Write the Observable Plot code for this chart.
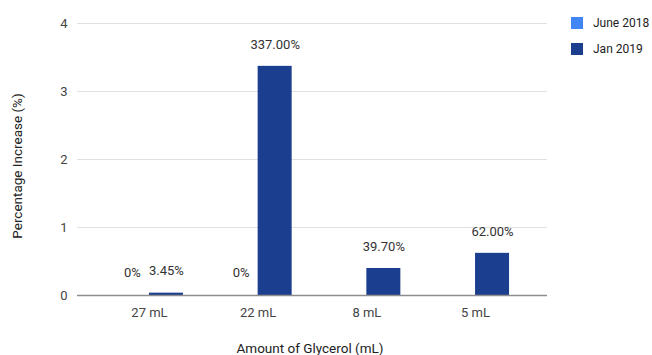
<!DOCTYPE html>
<html>
<head>
<meta charset="utf-8">
<script src="https://cdn.jsdelivr.net/npm/d3@7"></script>
<script src="https://cdn.jsdelivr.net/npm/@observablehq/plot@0.6"></script>
<style>
  html, body { margin: 0; padding: 0; background: #fff; }
  #wrap { position: relative; width: 652px; height: 355px; font-family: Roboto, "Noto Sans", sans-serif; }
  .legend { position: absolute; left: 571px; font-size: 12px; color: #222; display: flex; align-items: center; line-height: 12px; white-space: nowrap; }
  .legend .sw { width: 12px; height: 12px; margin-right: 10px; flex: none; }
  .atitle { position: absolute; font-size: 13.5px; color: #222; white-space: nowrap; line-height: 15px; }
</style>
</head>
<body>
<div id="wrap"></div>
<script>
const categories = ["27 mL", "22 mL", "8 mL", "5 mL"];
const seriesNames = ["June 2018", "Jan 2019"];
const june2018 = [0, 0, null, null];
const jan2019 = [0.0345, 3.37, 0.397, 0.62];
const june2018Labels = ["0%", "0%", null, null];
const jan2019Labels = ["3.45%", "337.00%", "39.70%", "62.00%"];
const yTicks = [0, 1, 2, 3, 4];
const colors = ["#4285f4", "#1c3e8e"];
const xTitle = "Amount of Glycerol (mL)";
const yTitle = "Percentage Increase (%)";

const W = 652, H = 355, mL = 77, mR = 105, mT = 23, mB = 60;
const outerPad = 0.162;
const step = (W - mL - mR) / (categories.length + 2 * outerPad);
const barW = 34;
const half = step / 2;

const juneRows = categories.map((c, i) => ({cat: c, value: june2018[i], label: june2018Labels[i]})).filter(d => d.value != null);
const janRows = categories.map((c, i) => ({cat: c, value: jan2019[i], label: jan2019Labels[i]}));

const chart = Plot.plot({
  width: W,
  height: H,
  marginLeft: mL,
  marginRight: mR,
  marginTop: mT,
  marginBottom: mB,
  style: {fontFamily: "Roboto, 'Noto Sans', sans-serif", fontSize: "13px", color: "#444", background: "#fff"},
  x: {domain: categories, paddingInner: 0, paddingOuter: outerPad, round: false, label: null, tickSize: 0, tickPadding: 12},
  y: {domain: [0, 4], ticks: yTicks, tickSize: 0, tickPadding: 10, label: null, tickFormat: d => d},
  marks: [
    Plot.ruleY(yTicks.filter(d => d > 0), {stroke: "#e0e0e0", strokeWidth: 1}),
    Plot.barY(juneRows, {x: "cat", y: "value", fill: colors[0], insetLeft: half - barW, insetRight: half}),
    Plot.barY(janRows, {x: "cat", y: "value", fill: colors[1], insetLeft: half, insetRight: half - barW}),
    Plot.ruleY([0], {stroke: "#8e8e8e", strokeWidth: 1.5}),
    Plot.text(juneRows, {x: "cat", y: "value", text: "label", dx: -barW / 2, dy: -23, fill: "#333", fontSize: 13, lineAnchor: "middle"}),
    Plot.text(janRows, {x: "cat", y: "value", text: "label", dx: barW / 2, dy: -22, fill: "#333", fontSize: 13, lineAnchor: "middle"})
  ]
});

const wrap = document.getElementById("wrap");
wrap.appendChild(chart);

const xt = document.createElement("div");
xt.className = "atitle";
xt.textContent = xTitle;
xt.style.left = "310px";
xt.style.top = "341px";
xt.style.transform = "translateX(-50%)";
wrap.appendChild(xt);

const yt = document.createElement("div");
yt.className = "atitle";
yt.textContent = yTitle;
yt.style.left = "17px";
yt.style.top = "166px";
yt.style.transform = "translate(-50%, -50%) rotate(-90deg)";
wrap.appendChild(yt);

const legendTops = [17, 43];
seriesNames.forEach((s, i) => {
  const div = document.createElement("div");
  div.className = "legend";
  div.style.top = legendTops[i] + "px";
  div.innerHTML = `<span class="sw" style="background:${colors[i]}"></span><span>${s}</span>`;
  wrap.appendChild(div);
});
</script>
</body>
</html>
